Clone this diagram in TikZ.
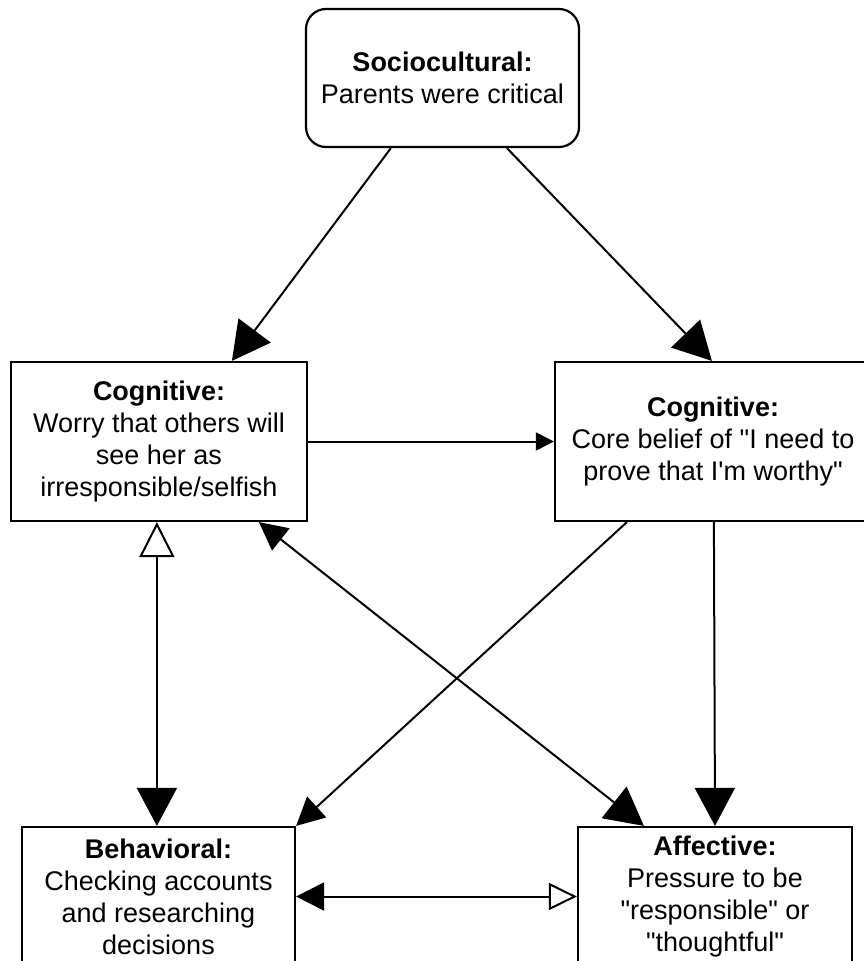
\documentclass[tikz,border=0pt]{standalone}
\usepackage{fontspec}
\setmainfont{Liberation Sans}[Ligatures=TeXOff]
\usetikzlibrary{arrows.meta,calc}
\begin{document}
\begin{tikzpicture}[x=1pt,y=-1pt,
  box/.style={draw, line width=2.2pt, align=center, inner sep=0pt,
    font=\fontsize{27}{32}\selectfont},
  con/.style={line width=2pt},
  bigtip/.tip={Triangle[length=38pt,width=40pt]},
  midtip/.tip={Triangle[length=28pt,width=28pt]},
  smalltip/.tip={Triangle[length=18pt,width=18pt]},
  openbig/.tip={Triangle[open,length=35pt,width=35pt]},
  openmid/.tip={Triangle[open,length=28pt,width=27pt]}]
\clip (0,0) rectangle (864,961);
\fill[white] (0,0) rectangle (864,961);

\node[box, rounded corners=20pt, minimum width=273pt, minimum height=138pt]
  (soc) at (442.5,78) {\textbf{Sociocultural:}\\Parents were critical};
\node[box, minimum width=296pt, minimum height=159pt]
  (cogL) at (159,441.5) {\textbf{Cognitive:}\\Worry that others will\\see her as\\irresponsible/selfish};
\node[box, minimum width=316pt, minimum height=159pt]
  (cogR) at (713,441.5) {\textbf{Cognitive:}\\Core belief of "I need to\\prove that I'm worthy"};
\node[box, minimum width=273pt, minimum height=139pt]
  (beh) at (158.5,896.5) {\textbf{Behavioral:}\\Checking accounts\\and researching\\decisions};
\node[box, minimum width=274pt, minimum height=139pt]
  (aff) at (715,896.5) {\textbf{Affective:}\\Pressure to be\\"responsible" or\\"thoughtful"};

\draw[con, -bigtip] ($(soc.south west)+(86,0)$) -- ($(cogL.north west)+(222,0)$);
\draw[con, -bigtip] ($(soc.south west)+(202,0)$) -- ($(cogR.north west)+(158,0)$);
\draw[con, -smalltip] (cogL.east) -- (cogR.west);
\draw[con, openbig-bigtip] ($(cogL.south west)+(147,0)$) -- ($(beh.north west)+(136,0)$);
\draw[con, -midtip] ($(cogR.south west)+(73,0)$) -- (beh.north east);
\draw[con, midtip-bigtip] ($(cogL.south west)+(249,0)$) -- ($(aff.north west)+(67,0)$);
\draw[con, -bigtip] ($(cogR.south west)+(160,0)$) -- (aff.north);
\draw[con, midtip-openmid] (beh.east) -- (aff.west);
\end{tikzpicture}
\end{document}
